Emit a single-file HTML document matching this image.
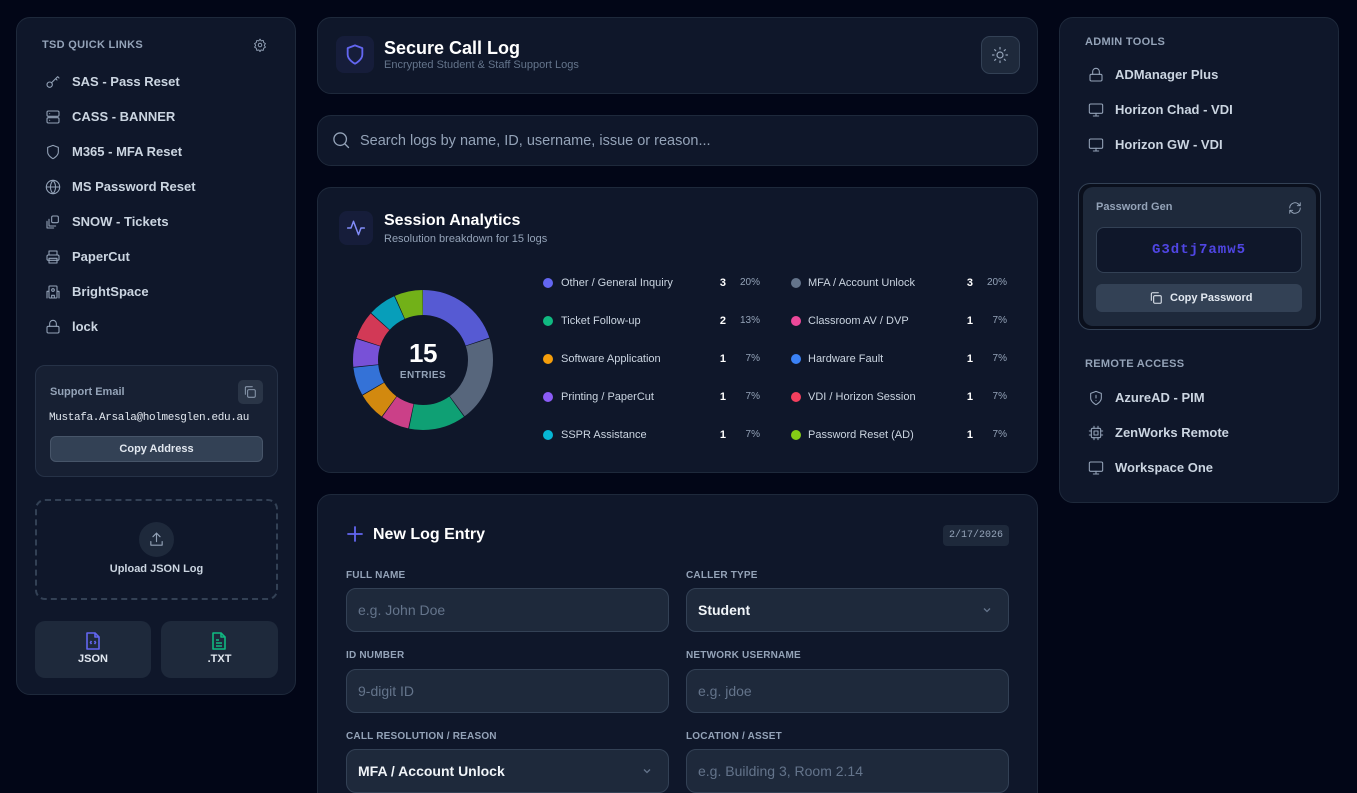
<!DOCTYPE html>
<html><head><meta charset="utf-8">
<style>
*{box-sizing:border-box;margin:0;padding:0}
html,body{width:1357px;height:793px;overflow:hidden;background:#020617;font-family:"Liberation Sans",sans-serif;color:#e2e8f0}
#wrap{position:relative;width:1357px;height:793px;overflow:hidden;background:#020617}
.abs{position:absolute}
.card{position:absolute;background:#0f172a;border:1px solid #1e293b;border-radius:14px}
.sec{position:absolute;font-size:11px;font-weight:bold;color:#94a3b8;letter-spacing:.3px;line-height:14px}
.lnk{position:absolute;height:20px;line-height:20px;font-size:13px;font-weight:bold;color:#cbd5e1;white-space:nowrap}
.lnk svg{position:absolute;left:0;top:2px}
.lnk span{position:absolute;left:27px;top:0}
svg.ic{fill:none;stroke:#94a3b8;stroke-width:1.6;stroke-linecap:round;stroke-linejoin:round}
.lg{position:absolute;height:14px;line-height:14px;font-size:11px;color:#cbd5e1;white-space:nowrap}
.lg i{position:absolute;left:-5px;top:2px;width:10px;height:10px;border-radius:50%}
.lg .t{position:absolute;left:13px;top:0}
.lg .c{position:absolute;width:20px;text-align:right;color:#fff;font-weight:bold}
.lg .p{position:absolute;width:40px;text-align:right;color:#94a3b8;font-size:10px}
.lab{position:absolute;font-size:10px;font-weight:bold;color:#94a3b8;letter-spacing:.2px;line-height:12px}
.inp{position:absolute;height:44px;background:#1e293b;border:1px solid #334155;border-radius:10px;font-size:14px;line-height:42px;padding-left:11px;color:#64748b}
.inp.v{color:#f1f5f9;font-weight:bold}
.inp .ch{position:absolute;right:16px;top:16px}
</style></head><body><div id="wrap">

<!-- LEFT PANEL -->
<div class="card" style="left:16px;top:17px;width:280px;height:678px"></div>
<div class="sec" style="left:42px;top:38px">TSD QUICK LINKS</div>
<svg class="ic abs" style="left:253px;top:38px" width="14" height="14" viewBox="0 0 24 24"><circle cx="12" cy="12" r="3"/><path d="M12 2l2 3 3.5-.8.8 3.5 3 2-2 3 2 3-3 2-.8 3.5-3.5-.8-2 3-2-3-3.5.8-.8-3.5-3-2 2-3-2-3 3-2 .8-3.5 3.5.8z"/></svg>

<div class="lnk" style="left:45px;top:72px"><svg class="ic" width="16" height="16" viewBox="0 0 24 24"><circle cx="7" cy="16" r="4"/><path d="M10 13l9-9M16 7l2 2M19 4l2 2"/></svg><span>SAS - Pass Reset</span></div>
<div class="lnk" style="left:45px;top:107px"><svg class="ic" width="16" height="16" viewBox="0 0 24 24"><rect x="3" y="3" width="18" height="8" rx="2"/><rect x="3" y="13" width="18" height="8" rx="2"/><path d="M7 7h.01M7 17h.01"/></svg><span>CASS - BANNER</span></div>
<div class="lnk" style="left:45px;top:142px"><svg class="ic" width="16" height="16" viewBox="0 0 24 24"><path d="M12 22s8-4 8-10V5l-8-3-8 3v7c0 6 8 10 8 10z"/></svg><span>M365 - MFA Reset</span></div>
<div class="lnk" style="left:45px;top:177px"><svg class="ic" width="16" height="16" viewBox="0 0 24 24"><circle cx="12" cy="12" r="10"/><path d="M2 12h20M12 2a15 15 0 0 1 0 20M12 2a15 15 0 0 0 0 20"/></svg><span>MS Password Reset</span></div>
<div class="lnk" style="left:45px;top:212px"><svg class="ic" width="16" height="16" viewBox="0 0 24 24"><rect x="10" y="3" width="10" height="10" rx="2"/><path d="M6 8v10h10M3 11v10h10"/></svg><span>SNOW - Tickets</span></div>
<div class="lnk" style="left:45px;top:247px"><svg class="ic" width="16" height="16" viewBox="0 0 24 24"><path d="M6 9V3h12v6"/><rect x="3" y="9" width="18" height="8" rx="2"/><rect x="6" y="14" width="12" height="7"/></svg><span>PaperCut</span></div>
<div class="lnk" style="left:45px;top:282px"><svg class="ic" width="16" height="16" viewBox="0 0 24 24"><rect x="6" y="3" width="12" height="18" rx="1"/><path d="M3 21V11h3M21 21V11h-3M10 21v-4h4v4"/><circle cx="12" cy="9" r="2"/></svg><span>BrightSpace</span></div>
<div class="lnk" style="left:45px;top:317px"><svg class="ic" width="16" height="16" viewBox="0 0 24 24"><rect x="3" y="11" width="18" height="10" rx="2"/><path d="M7 11V7a5 5 0 0 1 10 0v4"/></svg><span>lock</span></div>

<!-- support email -->
<div class="abs" style="left:35px;top:365px;width:243px;height:112px;background:#172033;border:1px solid #263247;border-radius:10px"></div>
<div class="abs" style="left:50px;top:385px;font-size:11px;font-weight:bold;color:#94a3b8;line-height:14px">Support Email</div>
<div class="abs" style="left:238px;top:380px;width:25px;height:24px;background:#2a3547;border-radius:5px"></div>
<svg class="ic abs" style="left:243px;top:385px" width="14" height="14" viewBox="0 0 24 24"><rect x="8" y="8" width="13" height="13" rx="2"/><path d="M4 16V5a2 2 0 0 1 2-2h10"/></svg>
<div class="abs" style="left:49px;top:411px;font-family:'Liberation Mono',monospace;font-size:11px;color:#e2e8f0;line-height:14px;letter-spacing:-.35px">Mustafa.Arsala@holmesglen.edu.au</div>
<div class="abs" style="left:50px;top:436px;width:213px;height:26px;background:#334155;border:1px solid #475569;border-radius:6px;font-size:11px;font-weight:bold;color:#e2e8f0;text-align:center;line-height:24px">Copy Address</div>

<!-- upload -->
<div class="abs" style="left:35px;top:499px;width:243px;height:101px;border:2px dashed #334155;border-radius:10px"></div>
<div class="abs" style="left:139px;top:522px;width:35px;height:35px;border-radius:50%;background:#1e293b"></div>
<svg class="ic abs" style="left:148px;top:531px" width="17" height="17" viewBox="0 0 24 24"><path d="M12 15V3M7 8l5-5 5 5M4 15v5h16v-5"/></svg>
<div class="abs" style="left:35px;top:562px;width:243px;text-align:center;font-size:11px;font-weight:bold;color:#cbd5e1;line-height:14px">Upload JSON Log</div>

<div class="abs" style="left:35px;top:621px;width:116px;height:57px;background:#1e293b;border-radius:10px"></div>
<svg class="abs" style="left:86px;top:632px" width="14" height="18" viewBox="0 0 14 18" fill="none" stroke="#6366f1" stroke-width="1.6" stroke-linejoin="round"><path d="M1 1h8l4 4v12H1z"/><path d="M9 1v4h4"/><path d="M5.5 9l-1 1.5 1 1.5M8.5 9l1 1.5-1 1.5"/></svg>
<div class="abs" style="left:35px;top:652px;width:116px;text-align:center;font-size:11px;font-weight:bold;color:#e2e8f0;line-height:14px">JSON</div>
<div class="abs" style="left:161px;top:621px;width:117px;height:57px;background:#1e293b;border-radius:10px"></div>
<svg class="abs" style="left:212px;top:632px" width="14" height="18" viewBox="0 0 14 18" fill="none" stroke="#10b981" stroke-width="1.6" stroke-linejoin="round"><path d="M1 1h8l4 4v12H1z"/><path d="M9 1v4h4M4 8h3M4 11h6M4 14h6"/></svg>
<div class="abs" style="left:161px;top:652px;width:117px;text-align:center;font-size:11px;font-weight:bold;color:#e2e8f0;line-height:14px">.TXT</div>

<!-- HEADER -->
<div class="card" style="left:317px;top:17px;width:721px;height:77px"></div>
<div class="abs" style="left:336px;top:36px;width:38px;height:37px;background:#161d3a;border-radius:8px"></div>
<svg class="abs" style="left:344px;top:43px" width="22" height="23" viewBox="0 0 24 24" fill="none" stroke="#6366f1" stroke-width="2" stroke-linejoin="round"><path d="M12 22s8-4 8-10V5l-8-3-8 3v7c0 6 8 10 8 10z"/></svg>
<div class="abs" style="left:384px;top:37px;font-size:18px;font-weight:bold;color:#fff;line-height:22px">Secure Call Log</div>
<div class="abs" style="left:384px;top:59px;font-size:11px;color:#64748b;line-height:13px">Encrypted Student &amp; Staff Support Logs</div>
<div class="abs" style="left:981px;top:36px;width:39px;height:38px;background:#1e293b;border:1px solid #334155;border-radius:9px"></div>
<svg class="ic abs" style="left:991px;top:46px" width="18" height="18" viewBox="0 0 24 24"><circle cx="12" cy="12" r="4"/><path d="M12 2v2M12 20v2M4.9 4.9l1.4 1.4M17.7 17.7l1.4 1.4M2 12h2M20 12h2M4.9 19.1l1.4-1.4M17.7 6.3l1.4-1.4"/></svg>

<!-- SEARCH -->
<div class="card" style="left:317px;top:115px;width:721px;height:51px"></div>
<svg class="ic abs" style="left:331px;top:130px" width="20" height="20" viewBox="0 0 24 24"><circle cx="11" cy="11" r="7.5"/><path d="M21 21l-4.5-4.5"/></svg>
<div class="abs" style="left:360px;top:132px;font-size:14.5px;color:#94a3b8;line-height:18px">Search logs by name, ID, username, issue or reason...</div>

<!-- ANALYTICS -->
<div class="card" style="left:317px;top:187px;width:721px;height:286px"></div>
<div class="abs" style="left:339px;top:211px;width:34px;height:34px;background:#161d3a;border-radius:8px"></div>
<svg class="abs" style="left:346px;top:218px" width="20" height="20" viewBox="0 0 24 24" fill="none" stroke="#818cf8" stroke-width="1.8" stroke-linecap="round" stroke-linejoin="round"><path d="M2 12h4l3-8 6 16 3-8h4"/></svg>
<div class="abs" style="left:384px;top:211px;font-size:16px;font-weight:bold;color:#fff;line-height:20px">Session Analytics</div>
<div class="abs" style="left:384px;top:233px;font-size:11px;color:#94a3b8;line-height:13px">Resolution breakdown for 15 logs</div>

<svg class="abs" style="left:343px;top:280px" width="160" height="160" viewBox="0 0 160 160">
<g transform="rotate(-90 80 80)" fill="none" stroke-width="25" opacity="0.85">
<circle cx="80" cy="80" r="57.5" stroke="#6366f1" stroke-dasharray="71.56 400" stroke-dashoffset="0"/>
<circle cx="80" cy="80" r="57.5" stroke="#64748b" stroke-dasharray="71.56 400" stroke-dashoffset="-72.26"/>
<circle cx="80" cy="80" r="57.5" stroke="#10b981" stroke-dasharray="47.47 400" stroke-dashoffset="-144.51"/>
<circle cx="80" cy="80" r="57.5" stroke="#ec4899" stroke-dasharray="23.39 400" stroke-dashoffset="-192.68"/>
<circle cx="80" cy="80" r="57.5" stroke="#f59e0b" stroke-dasharray="23.39 400" stroke-dashoffset="-216.77"/>
<circle cx="80" cy="80" r="57.5" stroke="#3b82f6" stroke-dasharray="23.39 400" stroke-dashoffset="-240.85"/>
<circle cx="80" cy="80" r="57.5" stroke="#8b5cf6" stroke-dasharray="23.39 400" stroke-dashoffset="-264.94"/>
<circle cx="80" cy="80" r="57.5" stroke="#f43f5e" stroke-dasharray="23.39 400" stroke-dashoffset="-289.02"/>
<circle cx="80" cy="80" r="57.5" stroke="#06b6d4" stroke-dasharray="23.39 400" stroke-dashoffset="-313.11"/>
<circle cx="80" cy="80" r="57.5" stroke="#84cc16" stroke-dasharray="23.39 400" stroke-dashoffset="-337.19"/>
</g>
</svg>
<div class="abs" style="left:373px;top:339px;width:100px;text-align:center;font-size:26px;font-weight:bold;color:#fff;line-height:28px;letter-spacing:-.5px">15</div>
<div class="abs" style="left:373px;top:370px;width:100px;text-align:center;font-size:10px;font-weight:bold;color:#94a3b8;line-height:12px;letter-spacing:.4px">ENTRIES</div>

<!-- legend col 1 -->
<div class="lg" style="left:548px;top:276px"><i style="background:#6366f1"></i><span class="t">Other / General Inquiry</span><span class="c" style="left:158px">3</span><span class="p" style="left:172px">20%</span></div>
<div class="lg" style="left:548px;top:314px"><i style="background:#10b981"></i><span class="t">Ticket Follow-up</span><span class="c" style="left:158px">2</span><span class="p" style="left:172px">13%</span></div>
<div class="lg" style="left:548px;top:352px"><i style="background:#f59e0b"></i><span class="t">Software Application</span><span class="c" style="left:158px">1</span><span class="p" style="left:172px">7%</span></div>
<div class="lg" style="left:548px;top:390px"><i style="background:#8b5cf6"></i><span class="t">Printing / PaperCut</span><span class="c" style="left:158px">1</span><span class="p" style="left:172px">7%</span></div>
<div class="lg" style="left:548px;top:428px"><i style="background:#06b6d4"></i><span class="t">SSPR Assistance</span><span class="c" style="left:158px">1</span><span class="p" style="left:172px">7%</span></div>
<!-- legend col 2 -->
<div class="lg" style="left:796px;top:276px"><i style="background:#64748b"></i><span class="t" style="left:12px">MFA / Account Unlock</span><span class="c" style="left:157px">3</span><span class="p" style="left:171px">20%</span></div>
<div class="lg" style="left:796px;top:314px"><i style="background:#ec4899"></i><span class="t" style="left:12px">Classroom AV / DVP</span><span class="c" style="left:157px">1</span><span class="p" style="left:171px">7%</span></div>
<div class="lg" style="left:796px;top:352px"><i style="background:#3b82f6"></i><span class="t" style="left:12px">Hardware Fault</span><span class="c" style="left:157px">1</span><span class="p" style="left:171px">7%</span></div>
<div class="lg" style="left:796px;top:390px"><i style="background:#f43f5e"></i><span class="t" style="left:12px">VDI / Horizon Session</span><span class="c" style="left:157px">1</span><span class="p" style="left:171px">7%</span></div>
<div class="lg" style="left:796px;top:428px"><i style="background:#84cc16"></i><span class="t" style="left:12px">Password Reset (AD)</span><span class="c" style="left:157px">1</span><span class="p" style="left:171px">7%</span></div>

<!-- FORM -->
<div class="card" style="left:317px;top:494px;width:721px;height:330px"></div>
<svg class="abs" style="left:347px;top:526px" width="16" height="16" viewBox="0 0 16 16" stroke="#6366f1" stroke-width="1.8" stroke-linecap="round"><path d="M8 1v14M1 8h14"/></svg>
<div class="abs" style="left:373px;top:525px;font-size:16px;font-weight:bold;color:#fff;line-height:20px">New Log Entry</div>
<div class="abs" style="left:943px;top:525px;width:66px;height:21px;background:#1e293b;border-radius:4px;font-family:'Liberation Mono',monospace;font-size:10px;color:#94a3b8;text-align:center;line-height:21px">2/17/2026</div>

<div class="lab" style="left:346px;top:570px">FULL NAME</div>
<div class="lab" style="left:686px;top:570px">CALLER TYPE</div>
<div class="inp" style="left:346px;top:588px;width:323px">e.g. John Doe</div>
<div class="inp v" style="left:686px;top:588px;width:323px">Student<svg class="ch" width="10" height="10" viewBox="0 0 10 10" fill="none" stroke="#64748b" stroke-width="1.3"><path d="M2 3.5l3 3 3-3"/></svg></div>

<div class="lab" style="left:346px;top:650px">ID NUMBER</div>
<div class="lab" style="left:686px;top:650px">NETWORK USERNAME</div>
<div class="inp" style="left:346px;top:669px;width:323px">9-digit ID</div>
<div class="inp" style="left:686px;top:669px;width:323px">e.g. jdoe</div>

<div class="lab" style="left:346px;top:731px">CALL RESOLUTION / REASON</div>
<div class="lab" style="left:686px;top:731px">LOCATION / ASSET</div>
<div class="inp v" style="left:346px;top:749px;width:323px">MFA / Account Unlock<svg class="ch" width="10" height="10" viewBox="0 0 10 10" fill="none" stroke="#64748b" stroke-width="1.3"><path d="M2 3.5l3 3 3-3"/></svg></div>
<div class="inp" style="left:686px;top:749px;width:323px">e.g. Building 3, Room 2.14</div>

<!-- RIGHT PANEL -->
<div class="card" style="left:1059px;top:17px;width:280px;height:486px"></div>
<div class="sec" style="left:1085px;top:35px">ADMIN TOOLS</div>
<div class="lnk" style="left:1088px;top:65px"><svg class="ic" width="16" height="16" viewBox="0 0 24 24"><rect x="3" y="11" width="18" height="10" rx="2"/><path d="M7 11V7a5 5 0 0 1 10 0v4"/></svg><span>ADManager Plus</span></div>
<div class="lnk" style="left:1088px;top:100px"><svg class="ic" width="16" height="16" viewBox="0 0 24 24"><rect x="2" y="3" width="20" height="14" rx="2"/><path d="M8 21h8M12 17v4"/></svg><span>Horizon Chad - VDI</span></div>
<div class="lnk" style="left:1088px;top:135px"><svg class="ic" width="16" height="16" viewBox="0 0 24 24"><rect x="2" y="3" width="20" height="14" rx="2"/><path d="M8 21h8M12 17v4"/></svg><span>Horizon GW - VDI</span></div>

<div class="abs" style="left:1078px;top:183px;width:243px;height:147px;background:#0a0f1c;border:1px solid #334155;border-radius:12px"></div>
<div class="abs" style="left:1083px;top:187px;width:233px;height:139px;background:#1e293b;border-radius:10px"></div>
<div class="abs" style="left:1096px;top:200px;font-size:11px;font-weight:bold;color:#94a3b8;line-height:14px">Password Gen</div>
<svg class="ic abs" style="left:1288px;top:201px" width="14" height="14" viewBox="0 0 24 24"><path d="M21 12a9 9 0 0 1-15.5 6.2L3 16M3 12a9 9 0 0 1 15.5-6.2L21 8M21 3v5h-5M3 21v-5h5"/></svg>
<div class="abs" style="left:1096px;top:227px;width:206px;height:46px;background:#0f172a;border:1px solid #334155;border-radius:8px;font-family:'Liberation Mono',monospace;font-size:14px;font-weight:bold;color:#5046e5;text-align:center;line-height:44px;letter-spacing:1px">G3dtj7amw5</div>
<div class="abs" style="left:1096px;top:284px;width:206px;height:28px;background:#334155;border-radius:6px"></div>
<svg class="abs" style="left:1149px;top:291px" width="14" height="14" viewBox="0 0 24 24" fill="none" stroke="#e2e8f0" stroke-width="1.8" stroke-linecap="round" stroke-linejoin="round"><rect x="8" y="8" width="13" height="13" rx="2"/><path d="M4 16V5a2 2 0 0 1 2-2h10"/></svg>
<div class="abs" style="left:1170px;top:291px;font-size:11px;font-weight:bold;color:#e2e8f0;line-height:14px">Copy Password</div>

<div class="sec" style="left:1085px;top:357px">REMOTE ACCESS</div>
<div class="lnk" style="left:1088px;top:388px"><svg class="ic" width="16" height="16" viewBox="0 0 24 24"><path d="M12 22s8-4 8-10V5l-8-3-8 3v7c0 6 8 10 8 10z"/><path d="M12 8v4M12 16h.01"/></svg><span>AzureAD - PIM</span></div>
<div class="lnk" style="left:1088px;top:423px"><svg class="ic" width="16" height="16" viewBox="0 0 24 24"><rect x="5" y="5" width="14" height="14" rx="2"/><rect x="9" y="9" width="6" height="6"/><path d="M9 2v3M15 2v3M9 19v3M15 19v3M2 9h3M2 15h3M19 9h3M19 15h3"/></svg><span>ZenWorks Remote</span></div>
<div class="lnk" style="left:1088px;top:458px"><svg class="ic" width="16" height="16" viewBox="0 0 24 24"><rect x="2" y="3" width="20" height="14" rx="2"/><path d="M8 21h8M12 17v4"/></svg><span>Workspace One</span></div>

</div></body></html>
